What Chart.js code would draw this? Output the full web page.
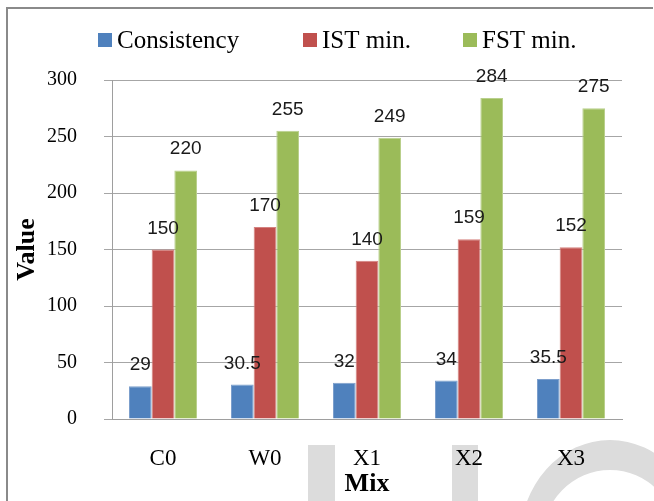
<!DOCTYPE html>
<html>
<head>
<meta charset="utf-8">
<script src="https://cdn.jsdelivr.net/npm/chart.js@4/dist/chart.umd.min.js"></script>
<style>
  html, body { margin: 0; padding: 0; background: #fff; }
  #wrap { position: relative; width: 654px; height: 501px; overflow: hidden; }
  #frame { position: absolute; left: 6px; top: 7px; right: 1px; bottom: -5px;
           border-left: 2px solid #8a8a8a; border-top: 2px solid #8a8a8a; pointer-events: none; }
  canvas { position: absolute; left: 0; top: 0; }
</style>
</head>
<body>
<div id="wrap">
  <canvas id="c" width="654" height="501"></canvas>
  <div id="frame"></div>
</div>
<script>
// Setting-time measurements per mix
const mixes = ['C0', 'W0', 'X1', 'X2', 'X3'];
const consistency = [29, 30.5, 32, 34, 35.5];
const istMin = [150, 170, 140, 159, 152];
const fstMin = [220, 255, 249, 284, 275];
const seriesNames = ['Consistency', 'IST min.', 'FST min.'];
const yMin = 0, yMax = 300, yStep = 50;

const fills   = ['#4F81BD', '#C0504D', '#9BBB59'];
const edges   = ['#7d9fcc', '#d4817f', '#b9d08d'];

const serif = '"Liberation Serif", "Times New Roman", serif';
const sans  = '"Liberation Sans", Arial, sans-serif';

// Grey watermark shapes sitting behind the lower part of the chart
const watermark = {
  id: 'watermark',
  beforeDraw(chart) {
    const ctx = chart.ctx;
    ctx.save();
    ctx.fillStyle = '#dcdcdc';
    ctx.fillRect(308, 445, 27, 60);
    ctx.fillRect(452, 445, 26, 60);
    ctx.beginPath();
    ctx.ellipse(610, 540, 90, 100, 0, 0, Math.PI * 2);
    ctx.ellipse(610, 540, 68, 70, 0, 0, Math.PI * 2, true);
    ctx.fill('evenodd');
    ctx.restore();
  }
};

// Legend row across the top
const topLegend = {
  id: 'topLegend',
  afterDraw(chart) {
    const ctx = chart.ctx;
    const xs = [98, 303, 463];
    ctx.save();
    ctx.font = '25px ' + serif;
    ctx.textBaseline = 'alphabetic';
    ctx.textAlign = 'left';
    chart.data.datasets.forEach((ds, i) => {
      ctx.fillStyle = ds.backgroundColor;
      ctx.fillRect(xs[i], 33, 14, 14);
      ctx.fillStyle = '#000';
      ctx.fillText(ds.label, xs[i] + 19, 48);
    });
    ctx.restore();
  }
};

// Value labels above each bar
const valueLabels = {
  id: 'valueLabels',
  afterDatasetsDraw(chart) {
    const ctx = chart.ctx;
    ctx.save();
    ctx.font = '19px ' + sans;
    ctx.fillStyle = '#1a1a1a';
    ctx.textAlign = 'center';
    ctx.textBaseline = 'alphabetic';
    chart.data.datasets.forEach((ds, di) => {
      chart.getDatasetMeta(di).data.forEach((bar, i) => {
        ctx.fillText(String(ds.data[i]), bar.x, bar.y - 16);
      });
    });
    ctx.restore();
  }
};

const seriesData = [consistency, istMin, fstMin];

new Chart(document.getElementById('c'), {
  type: 'bar',
  data: {
    labels: mixes,
    datasets: seriesNames.map((name, i) => ({
      label: name,
      data: seriesData[i],
      backgroundColor: fills[i],
      borderColor: edges[i],
      borderWidth: 1,
      categoryPercentage: 0.667,
      barPercentage: 1.0
    }))
  },
  options: {
    responsive: false,
    devicePixelRatio: 1,
    animation: false,
    layout: { padding: { left: 8, right: 32, top: 80, bottom: 4 } },
    plugins: {
      legend: { display: false },
      tooltip: { enabled: false }
    },
    scales: {
      x: {
        afterFit(scale) { scale.height = 78; },
        grid: { display: false, drawTicks: false },
        border: { display: true, color: '#9e9e9e', width: 1 },
        ticks: { font: { family: serif, size: 23, lineHeight: 1 }, color: '#000', padding: 28 },
        title: { display: true, text: 'Mix', color: '#000',
                 font: { family: serif, size: 26, weight: 'bold', lineHeight: 1 },
                 padding: { top: 4, bottom: 0 } }
      },
      y: {
        afterFit(scale) { scale.width = 104; },
        min: yMin, max: yMax,
        ticks: { stepSize: yStep, font: { family: serif, size: 20 }, color: '#000', padding: 27 },
        grid: { color: '#a6a6a6', tickLength: 8, tickColor: '#a6a6a6' },
        border: { display: true, color: '#9e9e9e', width: 1 },
        title: { display: true, text: 'Value', color: '#000',
                 font: { family: serif, size: 26, weight: 'bold' },
                 padding: { top: 4, bottom: 4 } }
      }
    }
  },
  plugins: [watermark, topLegend, valueLabels]
});
</script>
</body>
</html>
